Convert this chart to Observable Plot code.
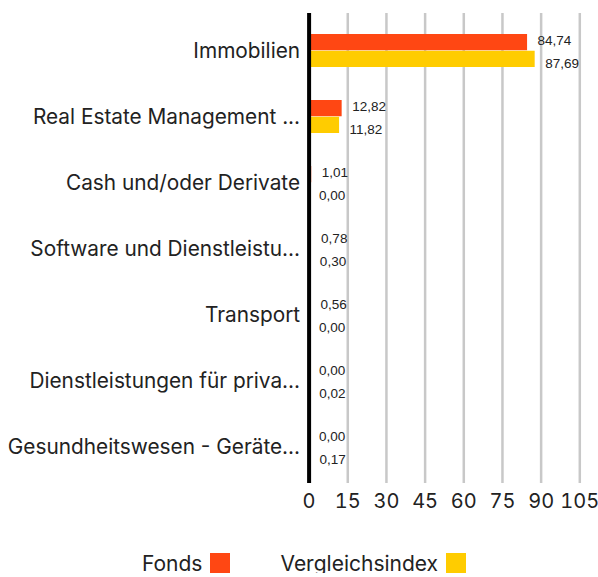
<!DOCTYPE html>
<html><head><meta charset="utf-8">
<script src="https://cdn.jsdelivr.net/npm/d3@7"></script>
<script src="https://cdn.jsdelivr.net/npm/@observablehq/plot@0.6"></script>
<style>
body{margin:0;background:#fff;font-family:Inter, "Noto Sans", sans-serif;color:#222}
#legend{display:flex;justify-content:center;align-items:center;margin-top:23px;padding-left:10px;font-size:21px;height:20px}
.item{display:flex;align-items:center}
.sw{width:20px;height:20px;margin-left:8px}
</style>
</head><body><div id="chart"></div><div id="legend"></div><script>
const categories = ["Immobilien","Real Estate Management ...","Cash und/oder Derivate","Software und Dienstleistu...","Transport","Dienstleistungen für priva...","Gesundheitswesen - Geräte..."];
const fonds = [84.74, 12.82, 1.01, 0.78, 0.56, 0.00, 0.00];
const vergleichsindex = [87.69, 11.82, 0.00, 0.30, 0.00, 0.02, 0.17];
const seriesNames = ["Fonds","Vergleichsindex"];
const xTicks = [0,15,30,45,60,75,90,105];
const colors = ["#ff4713","#ffcc00"];

const fondsData = categories.map((c,i)=>({category:c, series:seriesNames[0], value:fonds[i]}));
const indexData = categories.map((c,i)=>({category:c, series:seriesNames[1], value:vergleichsindex[i]}));
const fmt = v => v.toFixed(2).replace(".", ",");

const W = 598, H = 530, mt = 13, mb = 47, pI = 0.5, pO = 0.2575;
const step = (H - mt - mb) / (categories.length - pI + 2*pO);
const half = step * (1 - pI) / 2;

const chart = Plot.plot({
  width: W, height: H,
  marginLeft: 308.6, marginRight: 18.7, marginTop: mt, marginBottom: mb,
  style: {fontFamily: "Inter, 'Noto Sans', sans-serif", color: "#222", background: "#fff"},
  x: {domain: [0,105], label: null},
  y: {domain: categories, paddingInner: pI, paddingOuter: pO, align: 0.52, label: null},
  color: {domain: seriesNames, range: colors},
  marks: [
    Plot.ruleX(xTicks.filter(t => t > 0), {stroke: "#c8c8c8", strokeWidth: 2.5}),
    Plot.barX(fondsData, {x: "value", y: "category", fill: "series", insetBottom: half}),
    Plot.barX(indexData, {x: "value", y: "category", fill: "series", insetTop: half}),
    Plot.text(fondsData, {x: "value", y: "category", text: d => fmt(d.value), dx: 10, dy: -10, textAnchor: "start", fontSize: 13.5, fill: "#222", fontFamily: "'Liberation Sans', Arial, sans-serif"}),
    Plot.text(indexData, {x: "value", y: "category", text: d => fmt(d.value), dx: 10, dy: 13, textAnchor: "start", fontSize: 13.5, fill: "#222", fontFamily: "'Liberation Sans', Arial, sans-serif"}),
    Plot.axisX({ticks: xTicks, tickSize: 0, tickPadding: 10, fontSize: 20, label: null}),
    Plot.axisY({tickSize: 0, tickPadding: 9, fontSize: 20.8, label: null}),
    Plot.ruleX([0], {stroke: "#000", strokeWidth: 4})
  ]
});
document.getElementById("chart").appendChild(chart);

const legend = document.getElementById("legend");
seriesNames.forEach((s, i) => {
  const it = document.createElement("div");
  it.className = "item";
  if (i > 0) it.style.marginLeft = "50px";
  const t = document.createElement("span");
  t.textContent = s;
  const sw = document.createElement("span");
  sw.className = "sw";
  sw.style.background = colors[i];
  it.appendChild(t); it.appendChild(sw);
  legend.appendChild(it);
});
</script></body></html>
